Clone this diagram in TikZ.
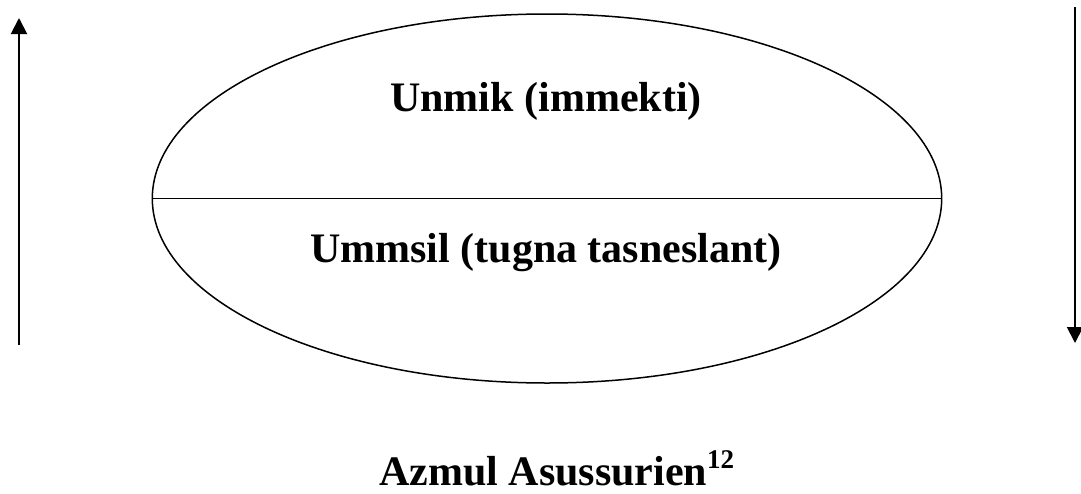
\documentclass[tikz,border=0pt]{standalone}
\usepackage{fontspec}
\setmainfont{Liberation Serif}
\usetikzlibrary{arrows.meta,shapes.geometric}
\begin{document}
\begin{tikzpicture}[x=1pt,y=1pt,
  bigtext/.style={font=\fontsize{42}{50}\selectfont\bfseries, inner sep=0pt},
  flowarrow/.style={line width=2pt, -{Triangle[length=16pt,width=16pt]}},
  outline/.style={line width=1.5pt}]
\useasboundingbox (0,0) rectangle (1081,-493);
% ellipse
\node[outline, draw, ellipse, minimum width=789.4pt, minimum height=369pt, inner sep=0pt] (ell) at (547,-198.5) {};
\coordinate (eL) at (ell.west);
\coordinate (eR) at (ell.east);
\draw[outline] (eL) -- (eR);
% texts
\node[bigtext, anchor=base] (top) at (546,-111) {Unmik (immekti)};
\node[bigtext, anchor=base] (bot) at (546,-262) {Ummsil (tugna tasneslant)};
\node[bigtext, anchor=base west] (cap) at (379,-485) {Azmul Asussurien\raisebox{17pt}{\fontsize{27}{32}\selectfont 12}};
% arrows
\coordinate (la) at (19,-345);
\coordinate (lb) at (19,-18);
\coordinate (ra) at (1075,-7);
\coordinate (rb) at (1075,-343);
\draw[flowarrow] (la) -- (lb);
\draw[flowarrow] (ra) -- (rb);
\end{tikzpicture}
\end{document}
